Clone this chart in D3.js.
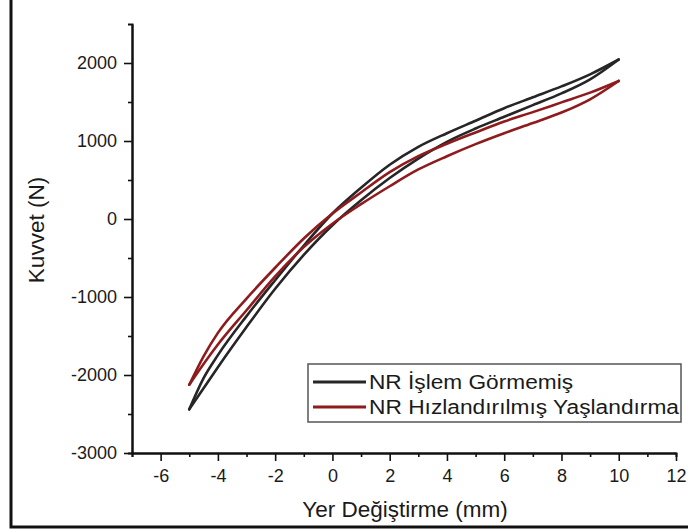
<!DOCTYPE html>
<html>
<head>
<meta charset="utf-8">
<script src="https://cdn.jsdelivr.net/npm/d3@7"></script>
<style>
  body { margin: 0; background: #fff; }
  svg text { font-family: "Liberation Sans", Arial, sans-serif; }
</style>
</head>
<body>
<div id="kuvvet_fig"></div>
<script>
// displacement samples (mm) shared by every branch
const disp = [-5, -4.5, -4, -3, -2, -1, 0, 1, 2, 3, 4, 5, 6, 7, 8, 9, 10]

// untreated NR, upper and lower branch of the loop (N)
const nr_upper = [-2440, -2040, -1745, -1245, -785, -340, 70, 400, 695, 925, 1100, 1260, 1420, 1560, 1700, 1855, 2045]
const nr_lower = [-2440, -2170, -1900, -1385, -895, -460, -80, 240, 525, 775, 990, 1160, 1310, 1460, 1610, 1790, 2045]

// NR after accelerated ageing
const aged_upper = [-2125, -1760, -1460, -1020, -625, -250, 70, 340, 600, 805, 965, 1110, 1250, 1370, 1495, 1620, 1770]
const aged_lower = [-2125, -1860, -1610, -1170, -735, -360, -60, 190, 420, 635, 805, 960, 1100, 1230, 1365, 1535, 1770]

const series_names = ["NR \u0130\u015flem G\u00f6rmemi\u015f", "NR H\u0131zland\u0131r\u0131lm\u0131\u015f Ya\u015fland\u0131rma"]

const x_ticks = [-6, -4, -2, 0, 2, 4, 6, 8, 10, 12]
const y_ticks = [-3000, -2000, -1000, 0, 1000, 2000]

const width = 688
const height = 532
const black_color = "#262626"
const red_color = "#8e1b1d"

svg = d3.select("#kuvvet_fig")
	.append("svg")
	.attr("width", width)
	.attr("height", height)

x = d3.scaleLinear().domain([-7, 12]).range([132, 676])
y = d3.scaleLinear().domain([-3000, 2500]).range([453, 24])

// frame on the left and bottom edges
svg.append("polyline")
	.attr("points", "11,0 11,527 688,527")
	.attr("fill", "none")
	.attr("stroke", "#111")
	.attr("stroke-width", 3)

// minor ticks first, major axes drawn over them
svg.append("g")
	.attr("transform", "translate(0,453)")
	.call(d3.axisBottom(x).tickValues(d3.range(-7, 12, 2)).tickSize(4).tickFormat(""))
svg.append("g")
	.attr("transform", "translate(132,0)")
	.call(d3.axisLeft(y).tickValues(d3.range(-2500, 2500, 1000)).tickSize(4).tickFormat(""))

x_axis = svg.append("g")
	.attr("transform", "translate(0,453)")
	.call(d3.axisBottom(x).tickValues(x_ticks).tickSize(8).tickSizeOuter(0).tickPadding(8)
		.tickFormat(d => String(d)))
y_axis = svg.append("g")
	.attr("transform", "translate(132,0)")
	.call(d3.axisLeft(y).tickValues(y_ticks).tickSize(8).tickSizeOuter(0).tickPadding(7)
		.tickFormat(d => String(d)))

svg.selectAll(".domain").attr("stroke", "#111").attr("stroke-width", 2)
svg.selectAll(".tick line").attr("stroke", "#111").attr("stroke-width", 1.6)
svg.selectAll(".tick text").attr("font-size", 18).attr("fill", "#1a1a1a")
	.attr("font-family", "Liberation Sans, Arial, sans-serif")

// axis titles
svg.append("text")
	.attr("x", 405)
	.attr("y", 517)
	.attr("text-anchor", "middle")
	.attr("font-size", 22.5)
	.attr("fill", "#1a1a1a")
	.text("Yer De\u011fi\u015ftirme (mm)")
svg.append("text")
	.attr("transform", "translate(44,230) rotate(-90)")
	.attr("text-anchor", "middle")
	.attr("font-size", 22.5)
	.attr("fill", "#1a1a1a")
	.text("Kuvvet (N)")

// each loop is drawn as its two branches, meeting at the turning points
branch = d3.line()
	.x((d, i) => x(disp[i]))
	.y(d => y(d))
	.curve(d3.curveMonotoneX)

function draw_loop(upper, lower, color){
	[upper, lower].forEach(vals => {
		svg.append("path")
			.attr("d", branch(vals))
			.attr("fill", "none")
			.attr("stroke", color)
			.attr("stroke-width", 2.6)
			.attr("stroke-linejoin", "round")
			.attr("stroke-linecap", "round")
	})
}

draw_loop(nr_upper, nr_lower, black_color)
draw_loop(aged_upper, aged_lower, red_color)

// legend
svg.append("rect")
	.attr("x", 308)
	.attr("y", 364)
	.attr("width", 373)
	.attr("height", 58)
	.attr("fill", "#fff")
	.attr("stroke", "#555")
	.attr("stroke-width", 1.5)

legend_colors = [black_color, red_color]
legend_text_len = [204, 310]
for (i = 0; i < series_names.length; i++){
	var ly = 382 + i * 25
	svg.append("line")
		.attr("x1", 313)
		.attr("x2", 366)
		.attr("y1", ly)
		.attr("y2", ly)
		.attr("stroke", legend_colors[i])
		.attr("stroke-width", 3)
	svg.append("text")
		.attr("x", 369)
		.attr("y", ly + 7)
		.attr("font-size", 19.5)
		.attr("textLength", legend_text_len[i])
		.attr("lengthAdjust", "spacingAndGlyphs")
		.attr("fill", "#1a1a1a")
		.text(series_names[i])
}
</script>
</body>
</html>
